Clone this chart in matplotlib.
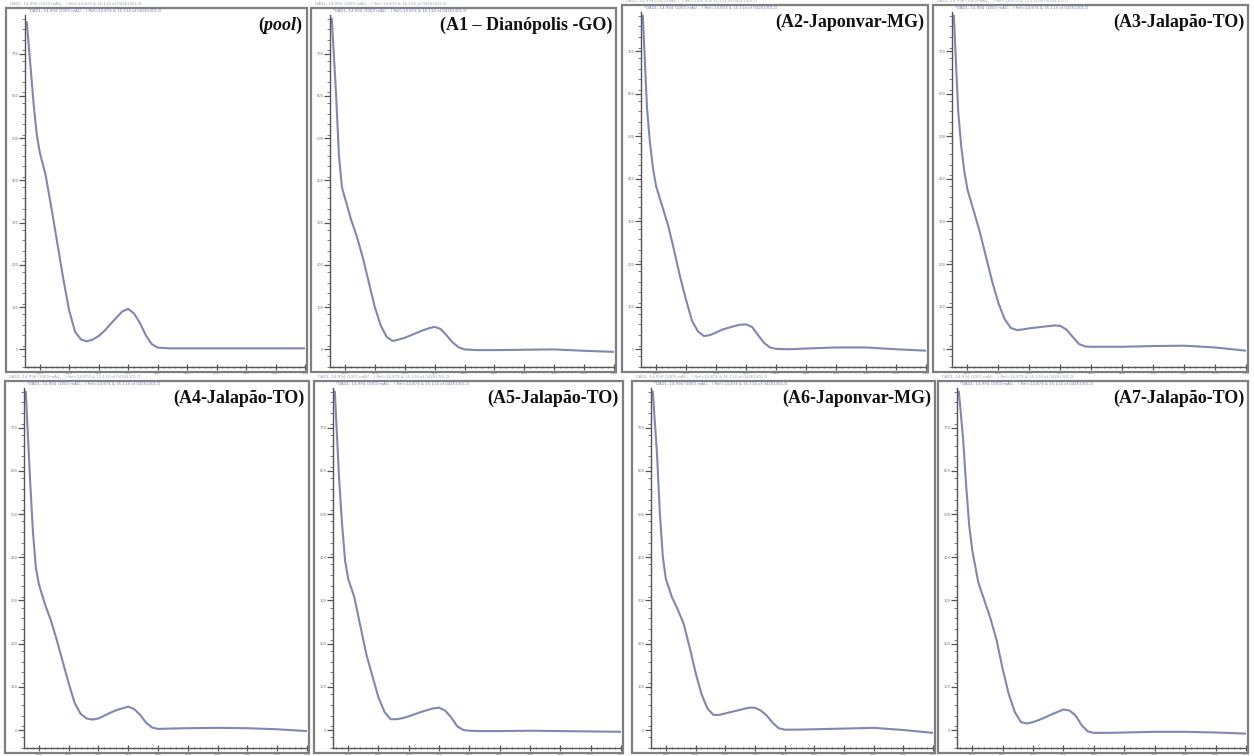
import matplotlib
matplotlib.use("Agg")
import matplotlib.pyplot as plt
from matplotlib.patches import Rectangle
from matplotlib.ticker import MultipleLocator, FixedLocator

plt.rcParams['mathtext.fontset'] = 'custom'
plt.rcParams['mathtext.rm'] = 'Liberation Serif:bold'
plt.rcParams['mathtext.it'] = 'Liberation Serif:bold:italic'

# ---------------- data ----------------
wavelength = [178, 185, 190, 195, 200, 210, 220, 230, 240, 250, 260, 270, 280, 290,
              300, 310, 320, 330, 340, 350, 360, 370, 380, 390, 400, 420, 450, 500,
              550, 600, 650]

pool = [0.98, 0.84, 0.74, 0.66, 0.61, 0.545, 0.45, 0.35, 0.25, 0.16, 0.10, 0.078, 0.073, 0.078,
        0.088, 0.103, 0.122, 0.14, 0.158, 0.165, 0.152, 0.125, 0.09, 0.065, 0.055, 0.053, 0.053, 0.053,
        0.053, 0.053, 0.053]
a1 = [0.99, 0.78, 0.60, 0.51, 0.48, 0.42, 0.37, 0.31, 0.24, 0.17, 0.117, 0.085, 0.074, 0.078,
      0.083, 0.09, 0.097, 0.104, 0.11, 0.114, 0.108, 0.09, 0.07, 0.056, 0.05, 0.048, 0.048, 0.049,
      0.05, 0.046, 0.043]
a2 = [0.99, 0.73, 0.63, 0.56, 0.51, 0.455, 0.40, 0.33, 0.255, 0.19, 0.13, 0.10, 0.087, 0.09,
      0.097, 0.105, 0.11, 0.115, 0.119, 0.12, 0.113, 0.09, 0.068, 0.055, 0.051, 0.05, 0.052, 0.055,
      0.055, 0.05, 0.046]
a3 = [0.99, 0.72, 0.62, 0.55, 0.50, 0.44, 0.38, 0.31, 0.24, 0.18, 0.135, 0.11, 0.104, 0.106,
      0.109, 0.111, 0.113, 0.115, 0.117, 0.116, 0.105, 0.085, 0.065, 0.058, 0.057, 0.057, 0.057, 0.059,
      0.06, 0.055, 0.046]
a4 = [0.99, 0.75, 0.60, 0.50, 0.455, 0.40, 0.355, 0.30, 0.24, 0.18, 0.125, 0.095, 0.082, 0.079,
      0.082, 0.09, 0.098, 0.105, 0.11, 0.115, 0.108, 0.092, 0.07, 0.057, 0.053, 0.054, 0.055, 0.056,
      0.055, 0.052, 0.047]
a5 = [0.99, 0.75, 0.62, 0.52, 0.47, 0.42, 0.34, 0.26, 0.20, 0.14, 0.10, 0.08, 0.08, 0.083,
      0.088, 0.094, 0.10, 0.105, 0.11, 0.112, 0.104, 0.085, 0.06, 0.05, 0.048, 0.047, 0.047, 0.048,
      0.047, 0.046, 0.045]
a6 = [0.99, 0.82, 0.65, 0.53, 0.47, 0.42, 0.385, 0.345, 0.28, 0.21, 0.15, 0.11, 0.092, 0.092,
      0.096, 0.10, 0.104, 0.108, 0.112, 0.112, 0.104, 0.09, 0.07, 0.055, 0.051, 0.051, 0.052, 0.054,
      0.056, 0.05, 0.042]
a7 = [0.99, 0.86, 0.73, 0.62, 0.55, 0.46, 0.41, 0.36, 0.30, 0.22, 0.15, 0.10, 0.072, 0.068,
      0.072, 0.078, 0.085, 0.093, 0.10, 0.107, 0.104, 0.09, 0.063, 0.046, 0.042, 0.042, 0.043, 0.045,
      0.045, 0.043, 0.04]

series = [pool, a1, a2, a3, a4, a5, a6, a7]
labels = [r"($\mathit{pool}$)", "(A1 – Dianópolis -GO)", "(A2-Japonvar-MG)", "(A3-Jalapão-TO)",
          "(A4-Jalapão-TO)", "(A5-Jalapão-TO)", "(A6-Japonvar-MG)", "(A7-Jalapão-TO)"]
x_ticks = [200, 250, 300, 350, 400, 450, 500, 550, 600, 650]
y_ticks = [0.05, 0.17, 0.29, 0.41, 0.53, 0.65, 0.77, 0.89]
y_ticklabels = ["0", "100", "200", "300", "400", "500", "600", "700"]
header1 = "DAD1, 14.994 (1000 mAU, - ) Ref=14.874 & 15.114 of 04261301.D"
header2 = "*DAD1, 14.994 (1000 mAU, - ) Ref=14.874 & 15.114 of 04261301.D"

# ---------------- layout (pixels) ----------------
W, H = 1254, 756
frames = [(6, 307, 8, 372), (311, 616, 8, 372), (622, 928, 5, 372), (933, 1248, 5, 372),
          (5, 309, 381, 753), (314, 623, 381, 753), (632, 935, 381, 753), (938, 1248, 381, 753)]

fig = plt.figure(figsize=(W / 100, H / 100), dpi=100)
fig.patch.set_facecolor('white')

line_color = '#8087b2'
frame_color = '#7f7f7f'

for i, (x0, x1, y0, y1) in enumerate(frames):
    # outer frame
    fig.add_artist(Rectangle((x0 / W, 1 - y1 / H), (x1 - x0) / W, (y1 - y0) / H,
                             transform=fig.transFigure, fill=False,
                             edgecolor=frame_color, lw=1.6))
    # header texts
    fig.text((x0 + 4) / W, 1 - (y0 - 4) / H, header1, fontsize=2.8, color='#9aa0b8',
             ha='left', va='center')
    fig.text((x0 + 22) / W, 1 - (y0 + 3) / H, header2, fontsize=2.8, color='#6f78c0',
             ha='left', va='center')

    ax_l, ax_r = x0 + 19, x1 - 2
    ax_t, ax_b = y0 + 7, y1 - 5
    ax = fig.add_axes([ax_l / W, 1 - ax_b / H, (ax_r - ax_l) / W, (ax_b - ax_t) / H])
    ax.plot(wavelength, series[i], color=line_color, lw=1.5, solid_capstyle='round',
            solid_joinstyle='round')
    ax.set_xlim(175, 650)
    ax.set_ylim(0, 1)
    ax.patch.set_alpha(0)
    for s in ['top', 'right']:
        ax.spines[s].set_visible(False)
    for s in ['left', 'bottom']:
        ax.spines[s].set_color('#555555')
        ax.spines[s].set_linewidth(1.0)
    ax.xaxis.set_major_locator(FixedLocator(x_ticks))
    ax.xaxis.set_minor_locator(MultipleLocator(10))
    ax.yaxis.set_major_locator(FixedLocator(y_ticks))
    ax.yaxis.set_minor_locator(MultipleLocator(0.03))
    ax.set_xticklabels([str(v) for v in x_ticks])
    ax.set_yticklabels(y_ticklabels)
    ax.tick_params(axis='both', which='major', length=4, width=0.9, color='#555555',
                   labelsize=2.6, pad=0.6, labelcolor='#777777')
    ax.tick_params(axis='both', which='minor', length=2, width=0.6, color='#666666')
    ax.tick_params(axis='x', which='both', direction='inout')

    # panel label
    fig.text((x1 - 4) / W, 1 - (y0 + 17) / H, labels[i], fontsize=13,
             family='Liberation Serif', fontweight='bold', ha='right', va='center',
             color='#111111')

fig.savefig('out.png', dpi=100, facecolor='white')
